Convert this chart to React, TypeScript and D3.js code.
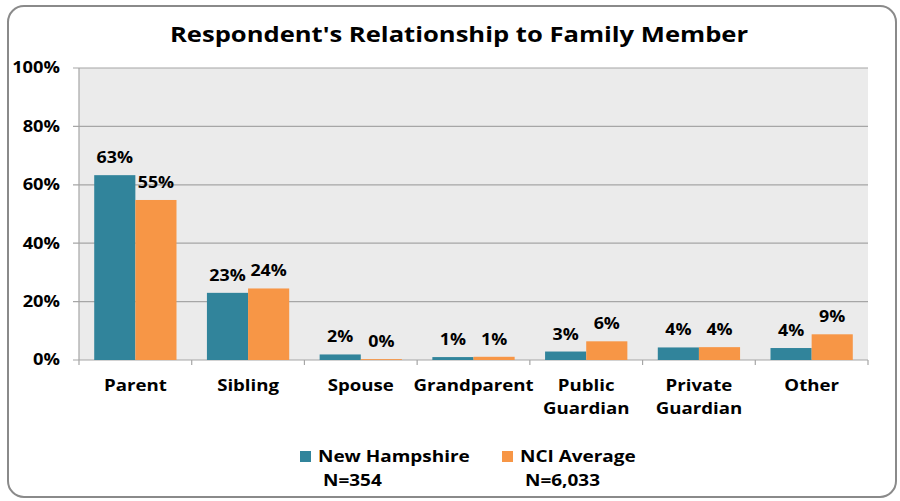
import React from "react";
import * as d3 from "d3";

const categories = ["Parent", "Sibling", "Spouse", "Grandparent", "Public\nGuardian", "Private\nGuardian", "Other"];
const nhValues = [63.3, 23.0, 1.9, 1.0, 2.9, 4.3, 4.1];
const nciValues = [54.8, 24.5, 0.3, 1.1, 6.4, 4.4, 8.8];
const nhLabels = ["63%", "23%", "2%", "1%", "3%", "4%", "4%"];
const nciLabels = ["55%", "24%", "0%", "1%", "6%", "4%", "9%"];
const yTicks = [0, 20, 40, 60, 80, 100];
const seriesNames = ["New Hampshire", "NCI Average"];
const seriesN = ["N=354", "N=6,033"];
const colors = ["#31849B", "#F79646"];

const W = 900, H = 501;
const plot = { left: 79, right: 868, top: 68, bottom: 360 };
const FONT = "'Open Sans', sans-serif";

function T({ x, y, sx = 1, size, anchor = "start", children, dy }: any) {
  return (
    <text transform={`translate(${x},${y}) scale(${sx},1)`} dy={dy} textAnchor={anchor} fontSize={size} fontWeight="bold" fill="#000">
      {children}
    </text>
  );
}

export default function App() {
  const x = d3.scaleBand<string>().domain(categories).range([plot.left, plot.right]).paddingInner(0.27).paddingOuter(0.135);
  const xs = d3.scaleBand<number>().domain([0, 1]).range([0, x.bandwidth()]);
  const y = d3.scaleLinear().domain([0, 100]).range([plot.bottom, plot.top]);
  const step = (plot.right - plot.left) / categories.length;
  const series = [nhValues, nciValues];
  const labels = [nhLabels, nciLabels];

  return (
    <svg width={W} height={H} style={{ position: "absolute", left: 0, top: 0 }} fontFamily={FONT}>
      <rect x={0} y={0} width={W} height={H} fill="#fff" />
      <rect x={8} y={6} width={888} height={491} rx={16} ry={16} fill="#fff" stroke="#8a8a8a" strokeWidth={2} />
      <T x={459} y={42} size={21.5} sx={1.19} anchor="middle">Respondent's Relationship to Family Member</T>
      <rect x={plot.left} y={plot.top} width={plot.right - plot.left} height={plot.bottom - plot.top} fill="#EBEBEB" />
      {yTicks.map((t) => (
        <g key={t}>
          <line x1={plot.left - 6} x2={plot.right} y1={y(t)} y2={y(t)} stroke="#A6A6A6" strokeWidth={1.2} />
          <T x={60} y={y(t)} dy="0.35em" size={15.5} sx={1.18} anchor="end">{t}%</T>
        </g>
      ))}
      <line x1={plot.left} x2={plot.left} y1={plot.top} y2={plot.bottom + 5} stroke="#A6A6A6" strokeWidth={1.2} />
      {categories.map((c, i) => (
        <line key={"t" + i} x1={plot.left + step * (i + 1)} x2={plot.left + step * (i + 1)} y1={plot.bottom} y2={plot.bottom + 5} stroke="#A6A6A6" strokeWidth={1.2} />
      ))}
      {categories.map((c, i) => (
        <g key={c}>
          {series.map((vals, s) => {
            const bx = (x(c) as number) + (xs(s) as number);
            const bw = xs.bandwidth();
            return (
              <g key={s}>
                <rect x={bx} y={y(vals[i])} width={bw} height={y(0) - y(vals[i])} fill={colors[s]} />
                <T x={bx + bw / 2} y={y(vals[i]) - 12} size={15.5} sx={1.15} anchor="middle">{labels[s][i]}</T>
              </g>
            );
          })}
          {c.split("\n").map((line, li) => (
            <T key={li} x={(x(c) as number) + x.bandwidth() / 2} y={391 + li * 23} size={16.5} sx={1.13} anchor="middle">{line}</T>
          ))}
        </g>
      ))}
      {seriesNames.map((n, s) => {
        const lx = s === 0 ? 300 : 502;
        return (
          <g key={n}>
            <rect x={lx} y={451} width={11} height={11} fill={colors[s]} />
            <T x={lx + 18} y={462} size={16.5} sx={1.15}>{n}</T>
            <T x={lx + 23} y={486} size={16.5} sx={1.15}>{seriesN[s]}</T>
          </g>
        );
      })}
    </svg>
  );
}
